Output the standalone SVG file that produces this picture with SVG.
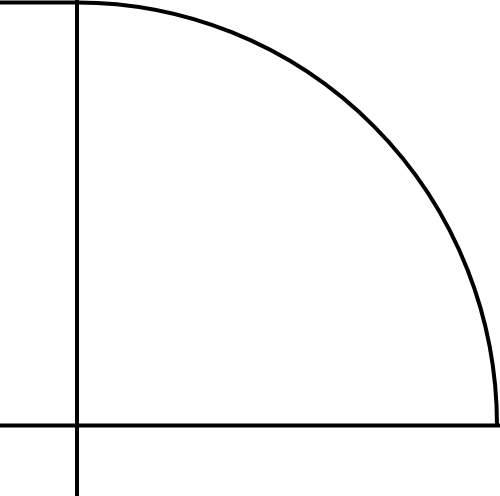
<svg xmlns="http://www.w3.org/2000/svg" width="500" height="496" viewBox="0 0 500 496">
<style>.s{fill:none;stroke:#000;stroke-width:4}</style>
<rect width="500" height="496" fill="#fff"/>
<g id="shapes">
<path class="s" d="M0 2.5H77"/>
<path class="s" d="M77 0V496"/>
<path class="s" d="M0 425.5H500"/>
<path class="s" d="M77 2.5A420 423 0 0 1 497 425.5"/>
</g>
</svg>
